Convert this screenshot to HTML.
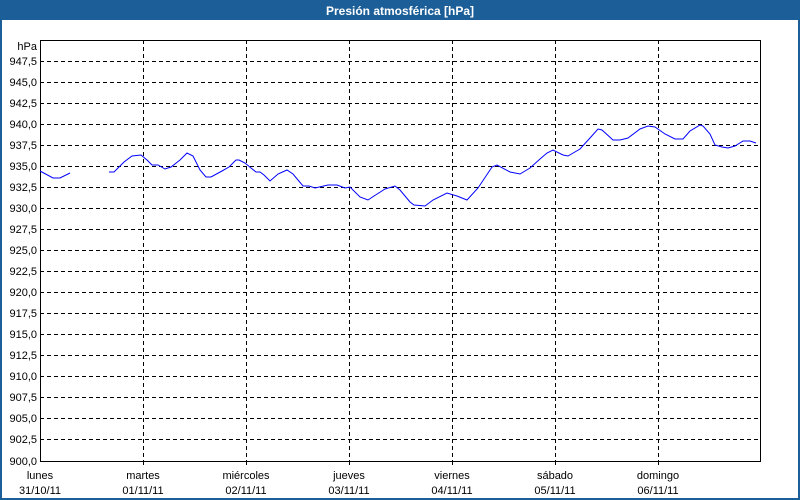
<!DOCTYPE html>
<html><head><meta charset="utf-8"><style>
html,body{margin:0;padding:0;background:#fff;}
svg{display:block;font-family:"Liberation Sans","DejaVu Sans",sans-serif;}
</style></head><body>
<svg width="800" height="500" viewBox="0 0 800 500" xmlns="http://www.w3.org/2000/svg">
<rect x="0" y="0" width="800" height="500" fill="#fff"/>
<rect x="1" y="1" width="798" height="498" fill="none" stroke="#1c5e98" stroke-width="2"/>
<rect x="0" y="0" width="800" height="20" fill="#1c5e98"/>
<text x="400" y="15" text-anchor="middle" font-size="12" font-weight="bold" fill="#fff">Presión atmosférica [hPa]</text>
<g stroke="#000" stroke-width="1" stroke-dasharray="4,3" fill="none">
<path d="M40 61.5H761M40 82.5H761M40 103.5H761M40 124.5H761M40 145.5H761M40 166.5H761M40 187.5H761M40 208.5H761M40 229.5H761M40 250.5H761M40 271.5H761M40 292.5H761M40 313.5H761M40 334.5H761M40 355.5H761M40 376.5H761M40 397.5H761M40 418.5H761M40 439.5H761"/>
<path d="M143.5 40V461M246.5 40V461M349.5 40V461M452.5 40V461M555.5 40V461M658.5 40V461"/>
</g>
<g stroke="#000" stroke-width="1" fill="none">
<path d="M40.5 40V461.5H761M760.5 40V461.5M40 40.5H761"/>
<path d="M143.5 461V465M246.5 461V465M349.5 461V465M452.5 461V465M555.5 461V465M658.5 461V465"/>
</g>
<g font-size="11" fill="#000" text-anchor="end">
<text x="37" y="50">hPa</text>
<text x="37" y="65">947,5</text><text x="37" y="86">945,0</text><text x="37" y="107">942,5</text><text x="37" y="128">940,0</text><text x="37" y="149">937,5</text><text x="37" y="170">935,0</text><text x="37" y="191">932,5</text><text x="37" y="212">930,0</text><text x="37" y="233">927,5</text><text x="37" y="254">925,0</text><text x="37" y="275">922,5</text><text x="37" y="296">920,0</text><text x="37" y="317">917,5</text><text x="37" y="338">915,0</text><text x="37" y="359">912,5</text><text x="37" y="380">910,0</text><text x="37" y="401">907,5</text><text x="37" y="422">905,0</text><text x="37" y="443">902,5</text><text x="37" y="465">900,0</text>
</g>
<g font-size="11" fill="#000" text-anchor="middle">
<text x="40" y="479">lunes</text><text x="40" y="494">31/10/11</text>
<text x="143" y="479">martes</text><text x="143" y="494">01/11/11</text>
<text x="246" y="479">miércoles</text><text x="246" y="494">02/11/11</text>
<text x="349" y="479">jueves</text><text x="349" y="494">03/11/11</text>
<text x="452" y="479">viernes</text><text x="452" y="494">04/11/11</text>
<text x="555" y="479">sábado</text><text x="555" y="494">05/11/11</text>
<text x="658" y="479">domingo</text><text x="658" y="494">06/11/11</text>
</g>
<g stroke="#0000ff" stroke-width="1" fill="none">
<polyline points="40,171 53,178 60,178 70,173"/>
<polyline points="109,172 114,172 124,162 132,156 141,155 147,160 152,165 158,165 165,169 171,167 180,160 187,153 193,156 200,170 206,177 211,177 222,171 229,167 236,160 239,160 245,163 251,168 256,172 260,172 264,175 270,181 278,174 287,170 293,174 303,186 309,186 315,188 328,185 337,185 345,188 350,187 360,197 368,200 374,196 385,189 395,186 400,190 410,202 414,205 425,206 433,200 447,193 457,196 467,200 478,188 492,167 497,165 510,172 520,174 530,168 540,159 547,153 553,150 563,155 568,156 580,149 590,138 598,129 602,130 613,140 620,140 628,138 640,129 648,126 655,127 665,134 675,139 683,139 690,131 700,125 703,126 710,134 715,145 722,147 728,148 735,146 743,141 750,141 756,143"/>
</g>
</svg>
</body></html>
